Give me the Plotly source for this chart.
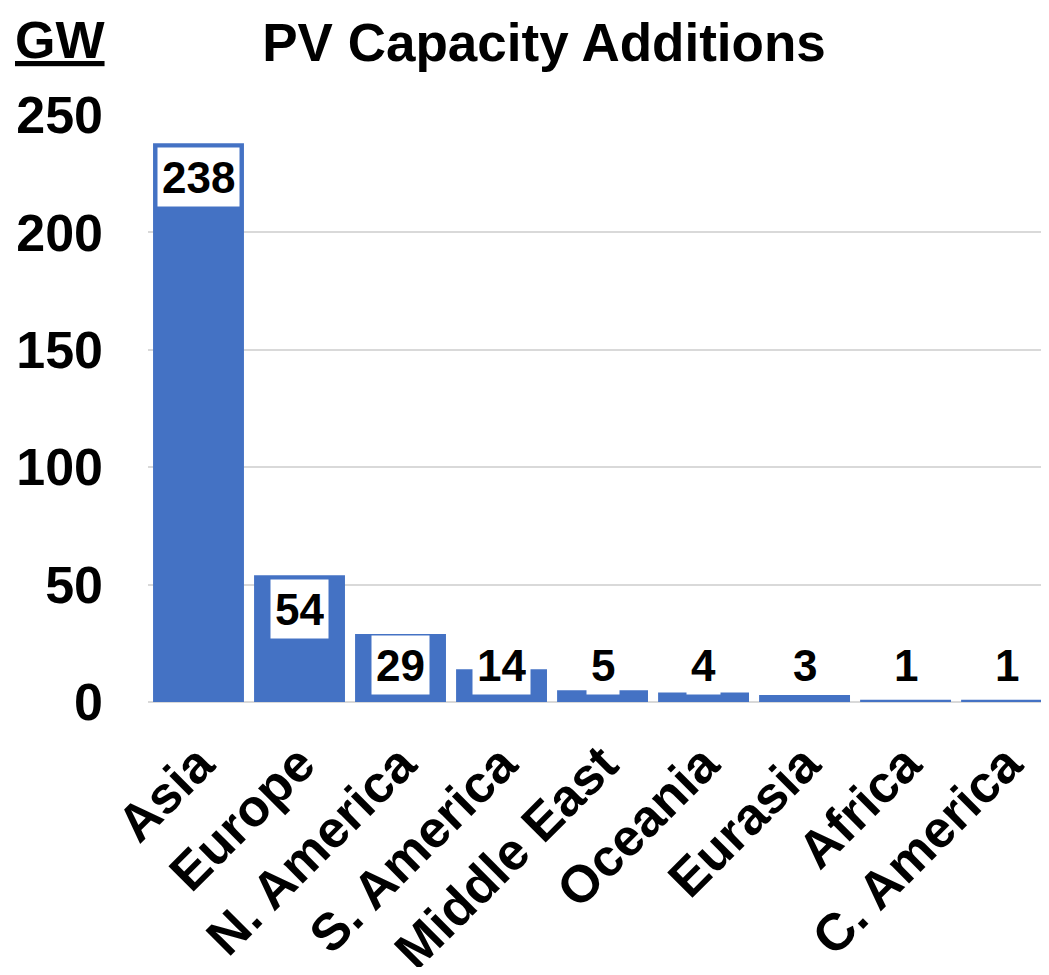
import plotly.graph_objects as go

regions = ["Asia", "Europe", "N. America", "S. America", "Middle East",
           "Oceania", "Eurasia", "Africa", "C. America"]
capacity_gw = [238, 54, 29, 14, 5, 4, 3, 1, 1]
y_ticks = [0, 50, 100, 150, 200, 250]

FONT = "Liberation Sans, Arial, sans-serif"
BLUE = "#4472C4"

OFF = 8  # page body margin
W, H = 1049 - OFF, 975 - 2 * OFF
M_L, M_R, M_T = 148 - OFF, 0, 115 - OFF
M_B = H - (702 - OFF)
Y_MAX = 250
plot_h = H - M_T - M_B
px_per_unit = plot_h / Y_MAX

fig = go.Figure()
fig.add_trace(go.Bar(
    x=list(range(len(regions))), y=capacity_gw,
    marker=dict(color=BLUE, line=dict(width=0)),
    hoverinfo="skip",
))

# data labels in white boxes
box_h = 50
pad = 4
gap_top = 4
clamp_units = 7 / px_per_unit
for i, v in enumerate(capacity_gw):
    bottom_units = v - (gap_top + box_h + 2 * pad) / px_per_unit
    if bottom_units >= clamp_units:
        ann = dict(y=v, yanchor="top", yshift=-gap_top)
    else:
        ann = dict(y=clamp_units, yanchor="bottom")
    fig.add_annotation(
        x=i, xref="x", yref="y", xanchor="center",
        text=f"<b>{v}</b>", showarrow=False,
        font=dict(family=FONT, size=44, color="black"),
        bgcolor="white", borderpad=pad, height=box_h,
        **ann,
    )

# GW unit label
fig.add_annotation(
    xref="paper", yref="paper",
    x=(13 - OFF - M_L) / (W - M_L - M_R), y=(H - M_B - (40 - OFF)) / plot_h,
    xanchor="left", yanchor="middle",
    text="<b><u>GW</u></b>", showarrow=False,
    font=dict(family=FONT, size=52, color="black"),
)

fig.update_layout(
    width=W, height=H,
    margin=dict(l=M_L, r=M_R, t=M_T, b=M_B, pad=0, autoexpand=False),
    paper_bgcolor="white", plot_bgcolor="white",
    showlegend=False,
    bargap=0.1,
    title=dict(text="<b>PV Capacity Additions</b>",
               xref="container", yref="container",
               x=(544 - OFF) / W, y=1 - (42 - OFF) / H, xanchor="center", yanchor="middle",
               font=dict(family=FONT, size=53, color="black")),
    font=dict(family=FONT, color="black"),
)
fig.update_xaxes(
    tickmode="array", tickvals=list(range(len(regions))), ticktext=[f"<b>{r}</b>" for r in regions],
    tickangle=-45, tickfont=dict(family=FONT, size=52, color="black"),
    range=[-0.5, 8.42], showgrid=False, showline=False, zeroline=False,
    ticks="", ticklabelstandoff=20, automargin=False,
)
fig.update_yaxes(
    range=[0, Y_MAX], tickmode="array", tickvals=y_ticks,
    ticktext=[f"<b>{t}</b>" for t in y_ticks],
    tickfont=dict(family=FONT, size=52, color="black"),
    showgrid=True, gridcolor="#D9D9D9", gridwidth=2,
    zeroline=True, zerolinecolor="#D9D9D9", zerolinewidth=2,
    showline=False, ticks="", ticklabelstandoff=44, automargin=False,
)

fig.write_html("out.html")
